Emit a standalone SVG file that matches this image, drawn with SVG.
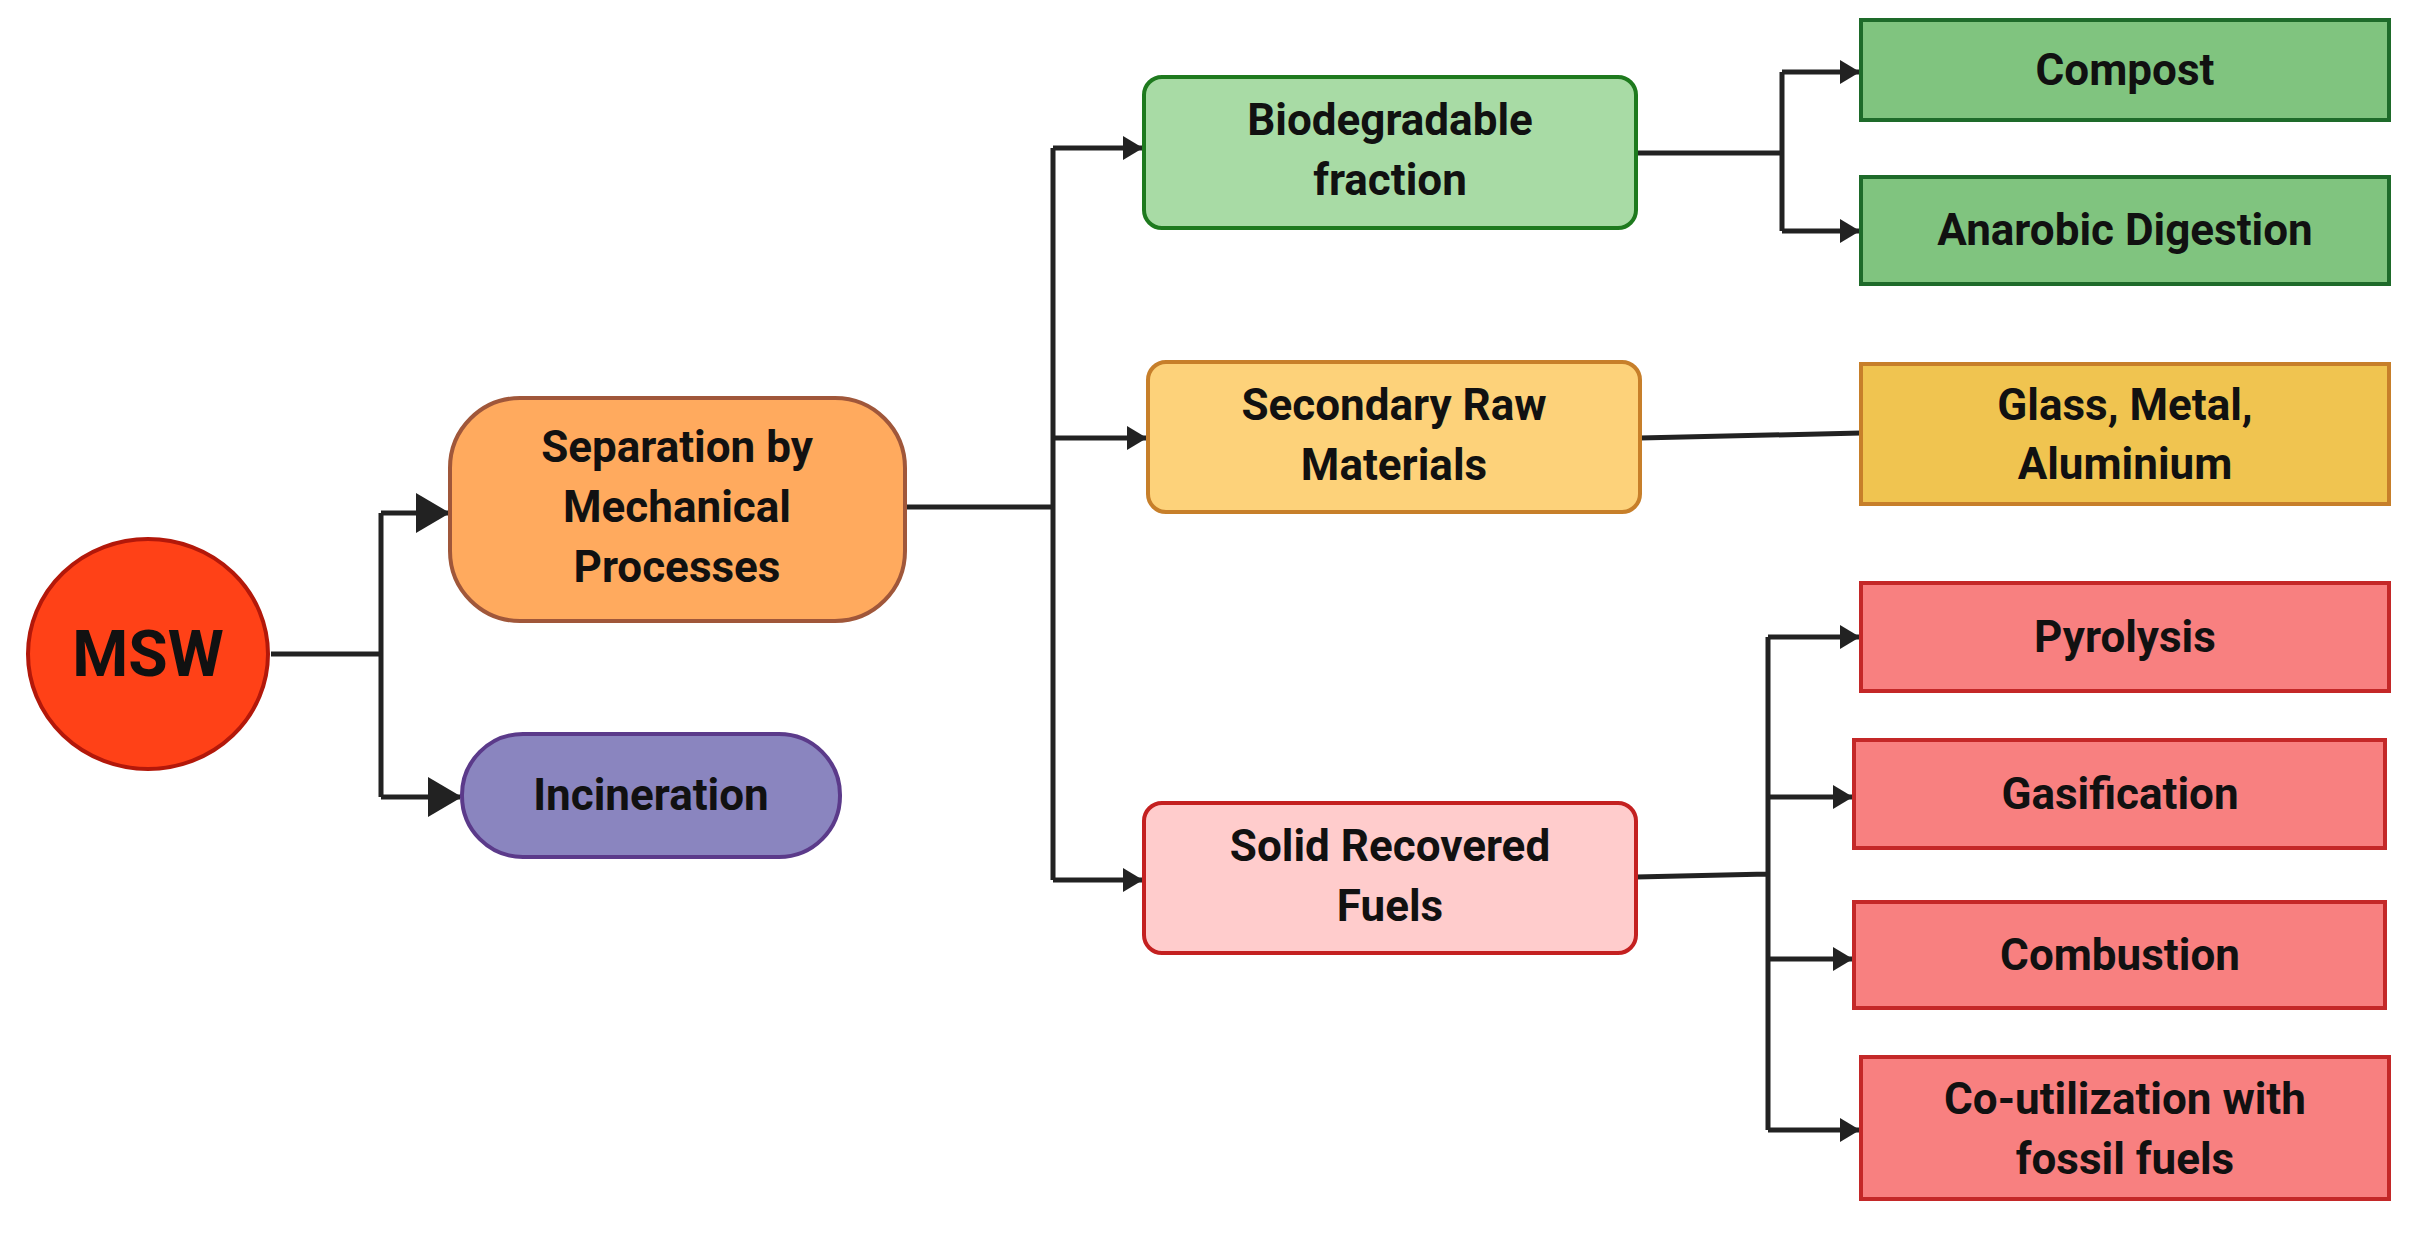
<svg xmlns="http://www.w3.org/2000/svg" width="2417" height="1236" viewBox="0 0 2417 1236">
<defs>
<marker id="big" markerUnits="userSpaceOnUse" markerWidth="34" markerHeight="40" refX="32" refY="20" orient="auto"><path d="M0,0 L34,20 L0,40 Z" fill="#222"/></marker>
<marker id="sm" markerUnits="userSpaceOnUse" markerWidth="20" markerHeight="24" refX="19" refY="12" orient="auto"><path d="M0,0 L20,12 L0,24 Z" fill="#222"/></marker>
</defs>
<style>
text{font-family:Roboto,"Liberation Sans",sans-serif;font-weight:bold;font-size:44px;fill:#111;text-anchor:middle}
.c{fill:none;stroke:#222;stroke-width:5}
.n{stroke-width:4}
</style>
<rect width="2417" height="1236" fill="#fff"/>
<g id="connectors">
<path class="c" d="M271,654 H381 M381,513 V797"/>
<path class="c" d="M381,513 H448" marker-end="url(#big)"/>
<path class="c" d="M381,797 H460" marker-end="url(#big)"/>
<path class="c" d="M905,507 H1053 M1053,148 V880"/>
<path class="c" d="M1053,148 H1142" marker-end="url(#sm)"/>
<path class="c" d="M1053,438 H1146" marker-end="url(#sm)"/>
<path class="c" d="M1053,880 H1142" marker-end="url(#sm)"/>
<path class="c" d="M1636,153 H1782 M1782,72 V231"/>
<path class="c" d="M1782,72 H1859" marker-end="url(#sm)"/>
<path class="c" d="M1782,231 H1859" marker-end="url(#sm)"/>
<path class="c" d="M1640,438 L1861,433"/>
<path class="c" d="M1636,877 L1768,874 M1768,637 V1130"/>
<path class="c" d="M1768,637 H1859" marker-end="url(#sm)"/>
<path class="c" d="M1768,797 H1852" marker-end="url(#sm)"/>
<path class="c" d="M1768,959 H1852" marker-end="url(#sm)"/>
<path class="c" d="M1768,1130 H1859" marker-end="url(#sm)"/>
</g>
<g id="msw"><ellipse class="n" cx="148" cy="654" rx="120" ry="115" fill="#FF4117" stroke="#B3180A"/><text x="148" y="676" style="font-size:64px">MSW</text></g>
<g id="separation"><rect class="n" x="450" y="398" width="455" height="223" rx="70" fill="#FFAA5E" stroke="#A0573A"/><text x="677" y="462">Separation by</text><text x="677" y="522">Mechanical</text><text x="677" y="582">Processes</text></g>
<g id="incineration"><rect class="n" x="462" y="734" width="378" height="123" rx="61" fill="#8A85BF" stroke="#5B3A8A"/><text x="651" y="810">Incineration</text></g>
<g id="biodegradable"><rect class="n" x="1144" y="77" width="492" height="151" rx="18" fill="#A8DBA5" stroke="#1E7A1E"/><text x="1390" y="135">Biodegradable</text><text x="1390" y="195">fraction</text></g>
<g id="secondary"><rect class="n" x="1148" y="362" width="492" height="150" rx="18" fill="#FDD27A" stroke="#C77F2A"/><text x="1394" y="420">Secondary Raw</text><text x="1394" y="480">Materials</text></g>
<g id="srf"><rect class="n" x="1144" y="803" width="492" height="150" rx="18" fill="#FFCCCC" stroke="#C42020"/><text x="1390" y="861">Solid Recovered</text><text x="1390" y="921">Fuels</text></g>
<g id="compost"><rect class="n" x="1861" y="20" width="528" height="100" fill="#80C47F" stroke="#1E6B2A"/><text x="2125" y="85">Compost</text></g>
<g id="anarobic"><rect class="n" x="1861" y="177" width="528" height="107" fill="#80C47F" stroke="#1E6B2A"/><text x="2125" y="245">Anarobic Digestion</text></g>
<g id="glass"><rect class="n" x="1861" y="364" width="528" height="140" fill="#F0C450" stroke="#C77F2A"/><text x="2125" y="420">Glass, Metal,</text><text x="2125" y="479">Aluminium</text></g>
<g id="pyrolysis"><rect class="n" x="1861" y="583" width="528" height="108" fill="#F88080" stroke="#C42828"/><text x="2125" y="652">Pyrolysis</text></g>
<g id="gasification"><rect class="n" x="1854" y="740" width="531" height="108" fill="#F88080" stroke="#C42828"/><text x="2120" y="809">Gasification</text></g>
<g id="combustion"><rect class="n" x="1854" y="902" width="531" height="106" fill="#F88080" stroke="#C42828"/><text x="2120" y="970">Combustion</text></g>
<g id="coutil"><rect class="n" x="1861" y="1057" width="528" height="142" fill="#F88080" stroke="#C42828"/><text x="2125" y="1114">Co-utilization with</text><text x="2125" y="1174">fossil fuels</text></g>
</svg>
